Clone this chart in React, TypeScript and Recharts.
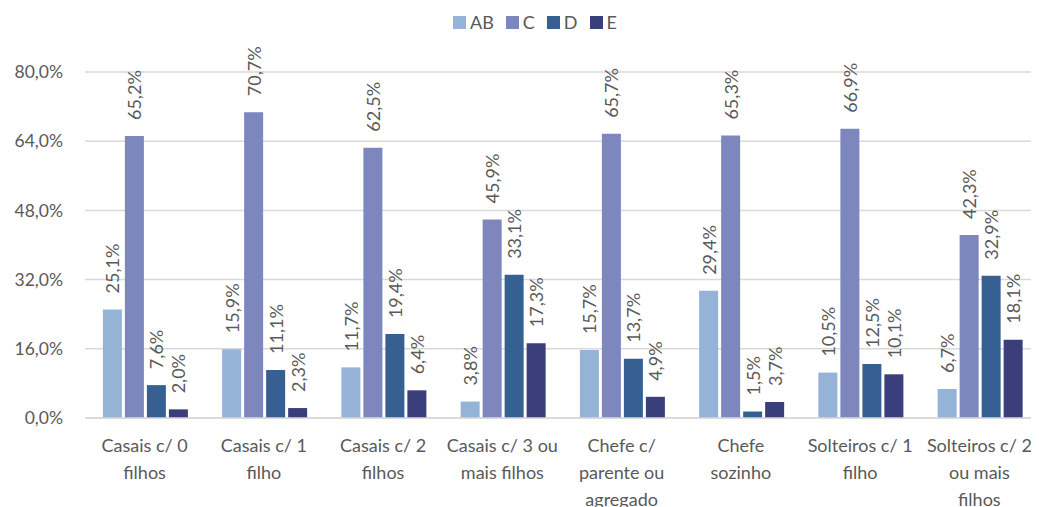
import { Bar, BarChart, CartesianGrid, LabelList, XAxis, YAxis } from "recharts";

const CATEGORIES = [
  "Casais c/ 0\nfilhos",
  "Casais c/ 1\nfilho",
  "Casais c/ 2\nfilhos",
  "Casais c/ 3 ou\nmais filhos",
  "Chefe c/\nparente ou\nagregado",
  "Chefe\nsozinho",
  "Solteiros c/ 1\nfilho",
  "Solteiros c/ 2\nou mais\nfilhos",
];
const AB = [25.1, 15.9, 11.7, 3.8, 15.7, 29.4, 10.5, 6.7];
const C = [65.2, 70.7, 62.5, 45.9, 65.7, 65.3, 66.9, 42.3];
const D = [7.6, 11.1, 19.4, 33.1, 13.7, 1.5, 12.5, 32.9];
const E = [2.0, 2.3, 6.4, 17.3, 4.9, 3.7, 10.1, 18.1];
const Y_TICKS = [0, 16, 32, 48, 64, 80];

const SERIES = [
  { key: "AB", color: "#95B3D7" },
  { key: "C", color: "#7D86BD" },
  { key: "D", color: "#366092" },
  { key: "E", color: "#3A3F7C" },
];

const FONT = "Lato, 'Open Sans', sans-serif";
const TEXT = "#595959";

const data = CATEGORIES.map((name, i) => ({ name, AB: AB[i], C: C[i], D: D[i], E: E[i] }));

const pct = (v: number) => `${v.toFixed(1).replace(".", ",")}%`;

// rotated value label sitting above the bar
function ValueLabel(props: any) {
  const { x, y, width, value } = props;
  const cx = x + width / 2;
  const ty = y - 16;
  return (
    <text
      x={cx}
      y={ty}
      transform={`rotate(-90, ${cx}, ${ty})`}
      textAnchor="start"
      dominantBaseline="central"
      fill={TEXT}
      fontSize={18}
      fontFamily={FONT}
    >
      {pct(value)}
    </text>
  );
}

function CategoryTick(props: any) {
  const { x, y, payload } = props;
  const lines = String(payload.value).split("\n");
  return (
    <text x={x} y={y} textAnchor="middle" fill={TEXT} fontSize={18} fontFamily={FONT}>
      {lines.map((l, i) => (
        <tspan key={i} x={x} dy={i === 0 ? 32 : 27}>
          {l}
        </tspan>
      ))}
    </text>
  );
}

export default function App() {
  return (
    <div style={{ position: "relative", width: 1031, height: 499, fontFamily: FONT }}>
      <div
        style={{
          position: "absolute",
          top: 5,
          left: 445,
          display: "flex",
          alignItems: "center",
          gap: 12,
          fontSize: 18,
          color: TEXT,
          lineHeight: "18px",
        }}
      >
        {SERIES.map((s) => (
          <div key={s.key} style={{ display: "flex", alignItems: "center", gap: 4 }}>
            <span style={{ width: 13, height: 13, background: s.color, display: "inline-block" }} />
            <span>{s.key}</span>
          </div>
        ))}
      </div>
      <BarChart
        width={1031}
        height={499}
        data={data}
        margin={{ top: 64, right: 0, bottom: 0, left: 0 }}
        barCategoryGap="15%"
        barGap={3}
      >
        <CartesianGrid vertical={false} stroke="#d9d9d9" strokeWidth={1.5} />
        <XAxis
          dataKey="name"
          height={89}
          axisLine={{ stroke: "#d9d9d9", strokeWidth: 1.5 }}
          tickLine={false}
          tickSize={0}
          tick={<CategoryTick />}
          interval={0}
        />
        <YAxis
          width={77}
          domain={[0, 80]}
          ticks={Y_TICKS}
          tickFormatter={pct}
          axisLine={false}
          tickLine={false}
          tickSize={0}
          tickMargin={22}
          tick={{ fill: TEXT, fontSize: 17.5, fontFamily: FONT }}
        />
        {SERIES.map((s) => (
          <Bar key={s.key} dataKey={s.key} fill={s.color} isAnimationActive={false}>
            <LabelList dataKey={s.key} content={<ValueLabel />} />
          </Bar>
        ))}
      </BarChart>
    </div>
  );
}
